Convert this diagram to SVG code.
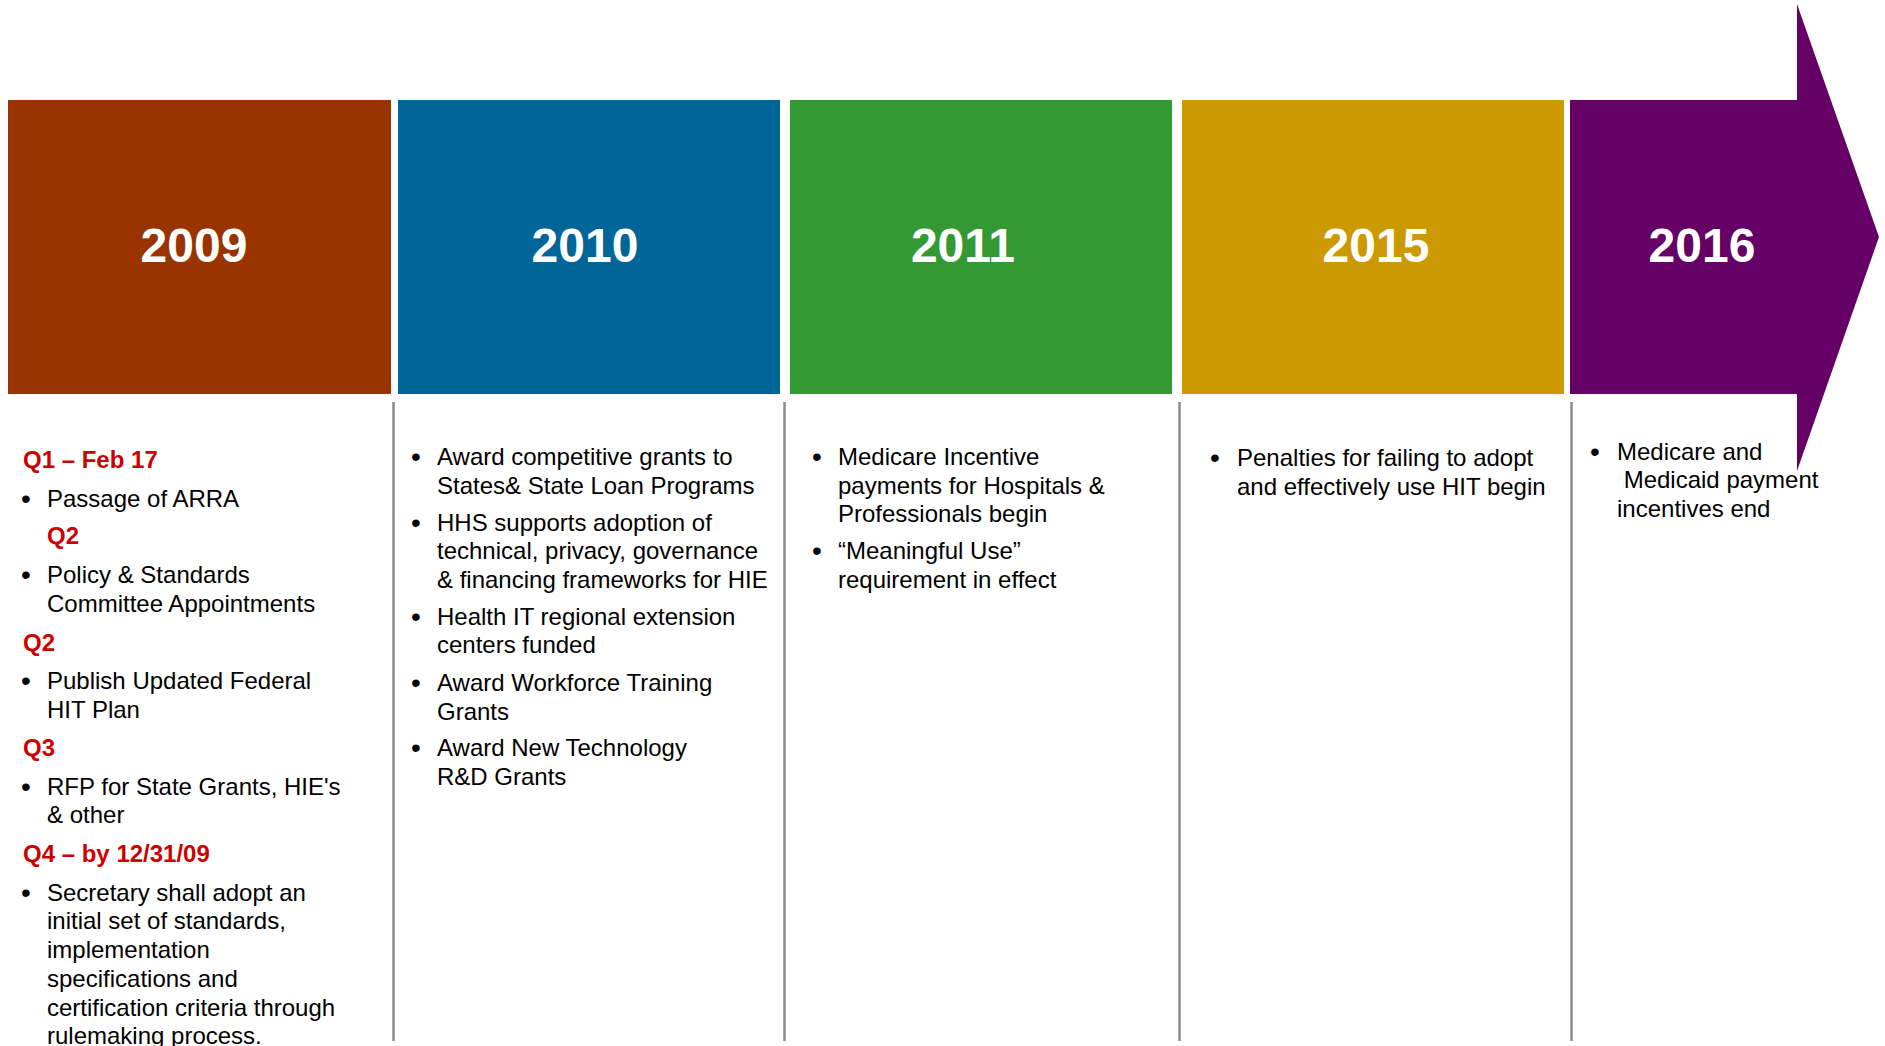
<svg xmlns="http://www.w3.org/2000/svg" width="1885" height="1046" viewBox="0 0 1885 1046">
<style>
.yr{font-family:"Liberation Sans",Arial,sans-serif;font-weight:bold;font-size:48px;fill:#fff;text-anchor:middle}
.b{font-family:"Liberation Sans",Arial,sans-serif;font-size:24px;fill:#000}
.d{font-family:"Liberation Sans",Arial,sans-serif;font-size:28px;fill:#000}
.h{font-family:"Liberation Sans",Arial,sans-serif;font-size:24px;font-weight:bold;fill:#CC0000}
.sep{stroke:#8a8a8a;stroke-width:2.5}
</style>
<rect width="1885" height="1046" fill="#fff"/>
<g id="connectors">
<line class="sep" x1="393.5" y1="402" x2="393.5" y2="1041"/>
<line class="sep" x1="784.5" y1="402" x2="784.5" y2="1041"/>
<line class="sep" x1="1179.5" y1="402" x2="1179.5" y2="1041"/>
<line class="sep" x1="1571.5" y1="402" x2="1571.5" y2="1041"/>
</g>
<g id="y2009">
<rect x="8" y="100" width="383" height="294" fill="#993300"/>
<text class="yr" x="194" y="262">2009</text>
</g>
<g id="y2010">
<rect x="398" y="100" width="382" height="294" fill="#006699"/>
<text class="yr" x="585" y="262">2010</text>
</g>
<g id="y2011">
<rect x="790" y="100" width="382" height="294" fill="#339933"/>
<text class="yr" x="963" y="262">2011</text>
</g>
<g id="y2015">
<rect x="1182" y="100" width="382" height="294" fill="#CC9900"/>
<text class="yr" x="1376" y="262">2015</text>
</g>
<g id="y2016">
<polygon points="1570,100 1797,100 1797,4 1879,237 1797,471 1797,394 1570,394" fill="#660066"/>
<text class="yr" x="1702" y="262">2016</text>
</g>
<g id="col2009">
<text class="h" x="23" y="468">Q1 – Feb 17</text>
<text class="d" x="21" y="508">•</text><text class="b" x="47" y="507">Passage of ARRA</text>
<text class="h" x="47" y="544">Q2</text>
<text class="d" x="21" y="584">•</text><text class="b" x="47" y="583">Policy &amp; Standards</text>
<text class="b" x="47" y="612">Committee Appointments</text>
<text class="h" x="23" y="651">Q2</text>
<text class="d" x="21" y="690">•</text><text class="b" x="47" y="689">Publish Updated Federal</text>
<text class="b" x="47" y="718">HIT Plan</text>
<text class="h" x="23" y="756">Q3</text>
<text class="d" x="21" y="796">•</text><text class="b" x="47" y="795">RFP for State Grants, HIE's</text>
<text class="b" x="47" y="823">&amp; other</text>
<text class="h" x="23" y="862">Q4 – by 12/31/09</text>
<text class="d" x="21" y="902">•</text><text class="b" x="47" y="901">Secretary shall adopt an</text>
<text class="b" x="47" y="929">initial set of standards,</text>
<text class="b" x="47" y="958">implementation</text>
<text class="b" x="47" y="987">specifications and</text>
<text class="b" x="47" y="1016">certification criteria through</text>
<text class="b" x="47" y="1044">rulemaking process.</text>
</g>
<g id="col2010">
<text class="d" x="411" y="466">•</text><text class="b" x="437" y="465">Award competitive grants to</text>
<text class="b" x="437" y="494">States&amp; State Loan Programs</text>
<text class="d" x="411" y="532">•</text><text class="b" x="437" y="531">HHS supports adoption of</text>
<text class="b" x="437" y="559">technical, privacy, governance</text>
<text class="b" x="437" y="588">&amp; financing frameworks for HIE</text>
<text class="d" x="411" y="626">•</text><text class="b" x="437" y="625">Health IT regional extension</text>
<text class="b" x="437" y="653">centers funded</text>
<text class="d" x="411" y="692">•</text><text class="b" x="437" y="691">Award Workforce Training</text>
<text class="b" x="437" y="720">Grants</text>
<text class="d" x="411" y="757">•</text><text class="b" x="437" y="756">Award New Technology</text>
<text class="b" x="437" y="785">R&amp;D Grants</text>
</g>
<g id="col2011">
<text class="d" x="812" y="466">•</text><text class="b" x="838" y="465">Medicare Incentive</text>
<text class="b" x="838" y="494">payments for Hospitals &amp;</text>
<text class="b" x="838" y="522">Professionals begin</text>
<text class="d" x="812" y="560">•</text><text class="b" x="838" y="559">“Meaningful Use”</text>
<text class="b" x="838" y="588">requirement in effect</text>
</g>
<g id="col2015">
<text class="d" x="1210" y="467">•</text><text class="b" x="1237" y="466">Penalties for failing to adopt</text>
<text class="b" x="1237" y="495">and effectively use HIT begin</text>
</g>
<g id="col2016">
<text class="d" x="1590" y="461">•</text><text class="b" x="1617" y="460">Medicare and</text>
<text class="b" x="1617" y="488" xml:space="preserve"> Medicaid payment</text>
<text class="b" x="1617" y="517">incentives end</text>
</g>
</svg>
